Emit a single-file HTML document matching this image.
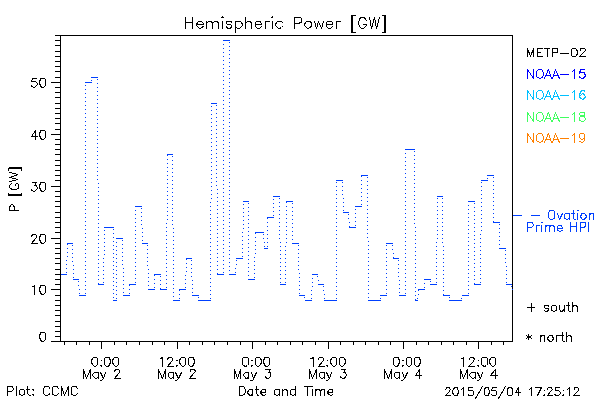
<!DOCTYPE html><html><head><title>Hemispheric Power</title><meta charset="utf-8"><style>html,body{margin:0;padding:0;background:#fff}svg{display:block}</style></head><body><svg width="600" height="400" viewBox="0 0 600 400" shape-rendering="crispEdges">
<rect width="600" height="400" fill="#fff"/>
<path d="M60 35.5H513 M60 341.5H513 M60.5 35V342 M512.5 35V342 M51 341.5H60 M55 336.5H60 M55 331.5H60 M55 326.5H60 M55 321.5H60 M55 315.5H60 M55 310.5H60 M55 305.5H60 M55 300.5H60 M55 295.5H60 M51 289.5H60 M55 284.5H60 M55 279.5H60 M55 274.5H60 M55 269.5H60 M55 263.5H60 M55 258.5H60 M55 253.5H60 M55 248.5H60 M55 243.5H60 M51 238.5H60 M55 232.5H60 M55 227.5H60 M55 222.5H60 M55 217.5H60 M55 212.5H60 M55 206.5H60 M55 201.5H60 M55 196.5H60 M55 191.5H60 M51 186.5H60 M55 180.5H60 M55 175.5H60 M55 170.5H60 M55 165.5H60 M55 160.5H60 M55 154.5H60 M55 149.5H60 M55 144.5H60 M55 139.5H60 M51 134.5H60 M55 129.5H60 M55 123.5H60 M55 118.5H60 M55 113.5H60 M55 108.5H60 M55 103.5H60 M55 97.5H60 M55 92.5H60 M55 87.5H60 M51 82.5H60 M55 77.5H60 M55 71.5H60 M55 66.5H60 M55 61.5H60 M55 56.5H60 M55 51.5H60 M55 45.5H60 M55 40.5H60 M55 35.5H60 M64.5 342V345 M76.5 342V345 M89.5 342V345 M101.5 342V349 M114.5 342V345 M126.5 342V345 M139.5 342V345 M152.5 342V345 M164.5 342V345 M177.5 342V349 M189.5 342V345 M202.5 342V345 M214.5 342V345 M227.5 342V345 M240.5 342V345 M252.5 342V349 M265.5 342V345 M277.5 342V345 M290.5 342V345 M302.5 342V345 M315.5 342V345 M328.5 342V349 M340.5 342V345 M353.5 342V345 M365.5 342V345 M378.5 342V345 M390.5 342V345 M403.5 342V349 M416.5 342V345 M428.5 342V345 M441.5 342V345 M453.5 342V345 M466.5 342V345 M478.5 342V349 M491.5 342V345 M503.5 342V345" stroke="#000" stroke-width="1" fill="none"/>
<path d="M61 274.5H67 M67 243.5H73 M73 279.5H79 M79 295.5H86 M85 82.5H92 M91 77.5H98 M98 284.5H104 M104 227.5H114 M113 300.5H117 M116 238.5H123 M123 295.5H130 M129 284.5H136 M135 206.5H142 M142 243.5H148 M148 289.5H155 M154 274.5H161 M160 289.5H167 M167 154.5H173 M173 300.5H180 M179 289.5H186 M186 258.5H192 M192 295.5H199 M198 300.5H211 M211 103.5H217 M217 274.5H224 M223 40.5H230 M229 274.5H236 M236 258.5H243 M243 201.5H249 M248 279.5H255 M255 232.5H264 M264 248.5H268 M267 217.5H274 M273 196.5H280 M280 284.5H286 M286 201.5H293 M292 243.5H299 M299 295.5H305 M305 300.5H312 M312 274.5H318 M318 284.5H324 M324 300.5H337 M336 180.5H343 M343 212.5H349 M349 227.5H356 M355 206.5H362 M361 175.5H368 M368 300.5H381 M380 295.5H387 M386 243.5H393 M393 258.5H399 M399 295.5H406 M405 149.5H415 M415 300.5H418 M418 289.5H425 M424 279.5H431 M430 284.5H437 M437 196.5H443 M443 295.5H450 M449 300.5H462 M462 295.5H469 M468 201.5H475 M474 284.5H481 M481 180.5H488 M487 175.5H494 M493 222.5H500 M499 248.5H506 M506 284.5H512" stroke="#0040ff" stroke-width="1" fill="none"/>
<path d="M66 272.5h1 M66 268.5h1 M66 264.5h1 M66 260.5h1 M67 256.5h1 M67 252.5h1 M67 248.5h1 M67 244.5h1 M72 245.5h1 M72 249.5h1 M72 253.5h1 M72 257.5h1 M72 261.5h1 M73 265.5h1 M73 269.5h1 M73 273.5h1 M73 277.5h1 M78 281.5h1 M78 285.5h1 M79 289.5h1 M79 293.5h1 M85 293.5h1 M85 289.5h1 M85 285.5h1 M85 281.5h1 M85 277.5h1 M85 273.5h1 M85 269.5h1 M85 265.5h1 M85 261.5h1 M85 257.5h1 M85 253.5h1 M85 249.5h1 M85 245.5h1 M85 241.5h1 M85 237.5h1 M85 233.5h1 M85 229.5h1 M85 225.5h1 M85 221.5h1 M85 217.5h1 M85 213.5h1 M85 209.5h1 M85 205.5h1 M85 201.5h1 M85 197.5h1 M85 193.5h1 M85 189.5h1 M85 185.5h1 M85 181.5h1 M85 177.5h1 M85 173.5h1 M85 169.5h1 M85 165.5h1 M85 161.5h1 M85 157.5h1 M85 153.5h1 M85 149.5h1 M85 145.5h1 M85 141.5h1 M85 137.5h1 M85 133.5h1 M85 129.5h1 M85 125.5h1 M85 121.5h1 M85 117.5h1 M85 113.5h1 M85 109.5h1 M85 105.5h1 M85 101.5h1 M85 97.5h1 M85 93.5h1 M85 89.5h1 M85 85.5h1 M91 80.5h1 M97 79.5h1 M97 83.5h1 M97 87.5h1 M97 91.5h1 M97 95.5h1 M97 99.5h1 M97 103.5h1 M97 107.5h1 M97 111.5h1 M97 115.5h1 M97 119.5h1 M97 123.5h1 M97 127.5h1 M97 131.5h1 M97 135.5h1 M97 139.5h1 M97 143.5h1 M97 147.5h1 M97 151.5h1 M97 155.5h1 M97 159.5h1 M97 163.5h1 M97 167.5h1 M97 171.5h1 M97 175.5h1 M97 179.5h1 M98 183.5h1 M98 187.5h1 M98 191.5h1 M98 195.5h1 M98 199.5h1 M98 203.5h1 M98 207.5h1 M98 211.5h1 M98 215.5h1 M98 219.5h1 M98 223.5h1 M98 227.5h1 M98 231.5h1 M98 235.5h1 M98 239.5h1 M98 243.5h1 M98 247.5h1 M98 251.5h1 M98 255.5h1 M98 259.5h1 M98 263.5h1 M98 267.5h1 M98 271.5h1 M98 275.5h1 M98 279.5h1 M98 283.5h1 M103 282.5h1 M103 278.5h1 M103 274.5h1 M103 270.5h1 M103 266.5h1 M103 262.5h1 M103 258.5h1 M104 254.5h1 M104 250.5h1 M104 246.5h1 M104 242.5h1 M104 238.5h1 M104 234.5h1 M104 230.5h1 M113 229.5h1 M113 233.5h1 M113 237.5h1 M113 241.5h1 M113 245.5h1 M113 249.5h1 M113 253.5h1 M113 257.5h1 M113 261.5h1 M113 265.5h1 M113 269.5h1 M113 273.5h1 M113 277.5h1 M113 281.5h1 M113 285.5h1 M113 289.5h1 M113 293.5h1 M113 297.5h1 M116 298.5h1 M116 294.5h1 M116 290.5h1 M116 286.5h1 M116 282.5h1 M116 278.5h1 M116 274.5h1 M116 270.5h1 M116 266.5h1 M116 262.5h1 M116 258.5h1 M116 254.5h1 M116 250.5h1 M116 246.5h1 M116 242.5h1 M122 240.5h1 M122 244.5h1 M122 248.5h1 M122 252.5h1 M122 256.5h1 M122 260.5h1 M122 264.5h1 M123 268.5h1 M123 272.5h1 M123 276.5h1 M123 280.5h1 M123 284.5h1 M123 288.5h1 M123 292.5h1 M129 293.5h1 M129 289.5h1 M129 285.5h1 M135 282.5h1 M135 278.5h1 M135 274.5h1 M135 270.5h1 M135 266.5h1 M135 262.5h1 M135 258.5h1 M135 254.5h1 M135 250.5h1 M135 246.5h1 M135 242.5h1 M135 238.5h1 M135 234.5h1 M135 230.5h1 M135 226.5h1 M135 222.5h1 M135 218.5h1 M135 214.5h1 M135 210.5h1 M141 208.5h1 M141 212.5h1 M141 216.5h1 M141 220.5h1 M141 224.5h1 M142 228.5h1 M142 232.5h1 M142 236.5h1 M142 240.5h1 M147 245.5h1 M147 249.5h1 M147 253.5h1 M147 257.5h1 M147 261.5h1 M147 265.5h1 M148 269.5h1 M148 273.5h1 M148 277.5h1 M148 281.5h1 M148 285.5h1 M154 287.5h1 M154 283.5h1 M154 279.5h1 M154 275.5h1 M160 276.5h1 M160 280.5h1 M160 284.5h1 M160 288.5h1 M166 287.5h1 M166 283.5h1 M166 279.5h1 M166 275.5h1 M166 271.5h1 M166 267.5h1 M166 263.5h1 M166 259.5h1 M166 255.5h1 M166 251.5h1 M166 247.5h1 M166 243.5h1 M166 239.5h1 M166 235.5h1 M166 231.5h1 M166 227.5h1 M166 223.5h1 M167 219.5h1 M167 215.5h1 M167 211.5h1 M167 207.5h1 M167 203.5h1 M167 199.5h1 M167 195.5h1 M167 191.5h1 M167 187.5h1 M167 183.5h1 M167 179.5h1 M167 175.5h1 M167 171.5h1 M167 167.5h1 M167 163.5h1 M167 159.5h1 M167 155.5h1 M172 156.5h1 M172 160.5h1 M172 164.5h1 M172 168.5h1 M172 172.5h1 M172 176.5h1 M172 180.5h1 M172 184.5h1 M172 188.5h1 M172 192.5h1 M172 196.5h1 M172 200.5h1 M172 204.5h1 M172 208.5h1 M172 212.5h1 M172 216.5h1 M172 220.5h1 M172 224.5h1 M173 228.5h1 M173 232.5h1 M173 236.5h1 M173 240.5h1 M173 244.5h1 M173 248.5h1 M173 252.5h1 M173 256.5h1 M173 260.5h1 M173 264.5h1 M173 268.5h1 M173 272.5h1 M173 276.5h1 M173 280.5h1 M173 284.5h1 M173 288.5h1 M173 292.5h1 M173 296.5h1 M179 298.5h1 M179 294.5h1 M179 290.5h1 M185 287.5h1 M185 283.5h1 M185 279.5h1 M185 275.5h1 M186 271.5h1 M186 267.5h1 M186 263.5h1 M186 259.5h1 M191 260.5h1 M191 264.5h1 M191 268.5h1 M191 272.5h1 M191 276.5h1 M192 280.5h1 M192 284.5h1 M192 288.5h1 M192 292.5h1 M198 297.5h1 M210 298.5h1 M210 294.5h1 M210 290.5h1 M210 286.5h1 M210 282.5h1 M210 278.5h1 M210 274.5h1 M210 270.5h1 M210 266.5h1 M210 262.5h1 M210 258.5h1 M210 254.5h1 M210 250.5h1 M210 246.5h1 M210 242.5h1 M210 238.5h1 M210 234.5h1 M210 230.5h1 M210 226.5h1 M210 222.5h1 M210 218.5h1 M210 214.5h1 M210 210.5h1 M210 206.5h1 M210 202.5h1 M211 198.5h1 M211 194.5h1 M211 190.5h1 M211 186.5h1 M211 182.5h1 M211 178.5h1 M211 174.5h1 M211 170.5h1 M211 166.5h1 M211 162.5h1 M211 158.5h1 M211 154.5h1 M211 150.5h1 M211 146.5h1 M211 142.5h1 M211 138.5h1 M211 134.5h1 M211 130.5h1 M211 126.5h1 M211 122.5h1 M211 118.5h1 M211 114.5h1 M211 110.5h1 M211 106.5h1 M216 105.5h1 M216 109.5h1 M216 113.5h1 M216 117.5h1 M216 121.5h1 M216 125.5h1 M216 129.5h1 M216 133.5h1 M216 137.5h1 M216 141.5h1 M216 145.5h1 M216 149.5h1 M216 153.5h1 M216 157.5h1 M216 161.5h1 M216 165.5h1 M216 169.5h1 M216 173.5h1 M216 177.5h1 M216 181.5h1 M216 185.5h1 M217 189.5h1 M217 193.5h1 M217 197.5h1 M217 201.5h1 M217 205.5h1 M217 209.5h1 M217 213.5h1 M217 217.5h1 M217 221.5h1 M217 225.5h1 M217 229.5h1 M217 233.5h1 M217 237.5h1 M217 241.5h1 M217 245.5h1 M217 249.5h1 M217 253.5h1 M217 257.5h1 M217 261.5h1 M217 265.5h1 M217 269.5h1 M217 273.5h1 M223 272.5h1 M223 268.5h1 M223 264.5h1 M223 260.5h1 M223 256.5h1 M223 252.5h1 M223 248.5h1 M223 244.5h1 M223 240.5h1 M223 236.5h1 M223 232.5h1 M223 228.5h1 M223 224.5h1 M223 220.5h1 M223 216.5h1 M223 212.5h1 M223 208.5h1 M223 204.5h1 M223 200.5h1 M223 196.5h1 M223 192.5h1 M223 188.5h1 M223 184.5h1 M223 180.5h1 M223 176.5h1 M223 172.5h1 M223 168.5h1 M223 164.5h1 M223 160.5h1 M223 156.5h1 M223 152.5h1 M223 148.5h1 M223 144.5h1 M223 140.5h1 M223 136.5h1 M223 132.5h1 M223 128.5h1 M223 124.5h1 M223 120.5h1 M223 116.5h1 M223 112.5h1 M223 108.5h1 M223 104.5h1 M223 100.5h1 M223 96.5h1 M223 92.5h1 M223 88.5h1 M223 84.5h1 M223 80.5h1 M223 76.5h1 M223 72.5h1 M223 68.5h1 M223 64.5h1 M223 60.5h1 M223 56.5h1 M223 52.5h1 M223 48.5h1 M223 44.5h1 M229 42.5h1 M229 46.5h1 M229 50.5h1 M229 54.5h1 M229 58.5h1 M229 62.5h1 M229 66.5h1 M229 70.5h1 M229 74.5h1 M229 78.5h1 M229 82.5h1 M229 86.5h1 M229 90.5h1 M229 94.5h1 M229 98.5h1 M229 102.5h1 M229 106.5h1 M229 110.5h1 M229 114.5h1 M229 118.5h1 M229 122.5h1 M229 126.5h1 M229 130.5h1 M229 134.5h1 M229 138.5h1 M229 142.5h1 M229 146.5h1 M229 150.5h1 M229 154.5h1 M229 158.5h1 M229 162.5h1 M229 166.5h1 M229 170.5h1 M229 174.5h1 M229 178.5h1 M229 182.5h1 M229 186.5h1 M229 190.5h1 M229 194.5h1 M229 198.5h1 M229 202.5h1 M229 206.5h1 M229 210.5h1 M229 214.5h1 M229 218.5h1 M229 222.5h1 M229 226.5h1 M229 230.5h1 M229 234.5h1 M229 238.5h1 M229 242.5h1 M229 246.5h1 M229 250.5h1 M229 254.5h1 M229 258.5h1 M229 262.5h1 M229 266.5h1 M229 270.5h1 M235 272.5h1 M235 268.5h1 M236 264.5h1 M236 260.5h1 M242 256.5h1 M242 252.5h1 M242 248.5h1 M242 244.5h1 M242 240.5h1 M242 236.5h1 M242 232.5h1 M243 228.5h1 M243 224.5h1 M243 220.5h1 M243 216.5h1 M243 212.5h1 M243 208.5h1 M243 204.5h1 M248 203.5h1 M248 207.5h1 M248 211.5h1 M248 215.5h1 M248 219.5h1 M248 223.5h1 M248 227.5h1 M248 231.5h1 M248 235.5h1 M248 239.5h1 M248 243.5h1 M248 247.5h1 M248 251.5h1 M248 255.5h1 M248 259.5h1 M248 263.5h1 M248 267.5h1 M248 271.5h1 M248 275.5h1 M254 277.5h1 M254 273.5h1 M254 269.5h1 M254 265.5h1 M254 261.5h1 M254 257.5h1 M255 253.5h1 M255 249.5h1 M255 245.5h1 M255 241.5h1 M255 237.5h1 M255 233.5h1 M263 234.5h1 M263 238.5h1 M264 242.5h1 M264 246.5h1 M267 246.5h1 M267 242.5h1 M267 238.5h1 M267 234.5h1 M267 230.5h1 M267 226.5h1 M267 222.5h1 M267 218.5h1 M273 215.5h1 M273 211.5h1 M273 207.5h1 M273 203.5h1 M273 199.5h1 M279 198.5h1 M279 202.5h1 M279 206.5h1 M279 210.5h1 M279 214.5h1 M279 218.5h1 M279 222.5h1 M279 226.5h1 M279 230.5h1 M279 234.5h1 M279 238.5h1 M280 242.5h1 M280 246.5h1 M280 250.5h1 M280 254.5h1 M280 258.5h1 M280 262.5h1 M280 266.5h1 M280 270.5h1 M280 274.5h1 M280 278.5h1 M280 282.5h1 M285 282.5h1 M285 278.5h1 M285 274.5h1 M285 270.5h1 M285 266.5h1 M285 262.5h1 M285 258.5h1 M285 254.5h1 M285 250.5h1 M285 246.5h1 M286 242.5h1 M286 238.5h1 M286 234.5h1 M286 230.5h1 M286 226.5h1 M286 222.5h1 M286 218.5h1 M286 214.5h1 M286 210.5h1 M286 206.5h1 M286 202.5h1 M292 203.5h1 M292 207.5h1 M292 211.5h1 M292 215.5h1 M292 219.5h1 M292 223.5h1 M292 227.5h1 M292 231.5h1 M292 235.5h1 M292 239.5h1 M298 245.5h1 M298 249.5h1 M298 253.5h1 M298 257.5h1 M298 261.5h1 M298 265.5h1 M298 269.5h1 M299 273.5h1 M299 277.5h1 M299 281.5h1 M299 285.5h1 M299 289.5h1 M299 293.5h1 M304 297.5h1 M311 298.5h1 M311 294.5h1 M311 290.5h1 M312 286.5h1 M312 282.5h1 M312 278.5h1 M317 276.5h1 M318 280.5h1 M323 286.5h1 M323 290.5h1 M324 294.5h1 M324 298.5h1 M336 298.5h1 M336 294.5h1 M336 290.5h1 M336 286.5h1 M336 282.5h1 M336 278.5h1 M336 274.5h1 M336 270.5h1 M336 266.5h1 M336 262.5h1 M336 258.5h1 M336 254.5h1 M336 250.5h1 M336 246.5h1 M336 242.5h1 M336 238.5h1 M336 234.5h1 M336 230.5h1 M336 226.5h1 M336 222.5h1 M336 218.5h1 M336 214.5h1 M336 210.5h1 M336 206.5h1 M336 202.5h1 M336 198.5h1 M336 194.5h1 M336 190.5h1 M336 186.5h1 M336 182.5h1 M342 182.5h1 M342 186.5h1 M342 190.5h1 M342 194.5h1 M343 198.5h1 M343 202.5h1 M343 206.5h1 M343 210.5h1 M348 214.5h1 M348 218.5h1 M349 222.5h1 M349 226.5h1 M355 225.5h1 M355 221.5h1 M355 217.5h1 M355 213.5h1 M355 209.5h1 M361 204.5h1 M361 200.5h1 M361 196.5h1 M361 192.5h1 M361 188.5h1 M361 184.5h1 M361 180.5h1 M361 176.5h1 M367 177.5h1 M367 181.5h1 M367 185.5h1 M367 189.5h1 M367 193.5h1 M367 197.5h1 M367 201.5h1 M367 205.5h1 M367 209.5h1 M367 213.5h1 M367 217.5h1 M367 221.5h1 M367 225.5h1 M367 229.5h1 M367 233.5h1 M367 237.5h1 M368 241.5h1 M368 245.5h1 M368 249.5h1 M368 253.5h1 M368 257.5h1 M368 261.5h1 M368 265.5h1 M368 269.5h1 M368 273.5h1 M368 277.5h1 M368 281.5h1 M368 285.5h1 M368 289.5h1 M368 293.5h1 M368 297.5h1 M380 298.5h1 M386 293.5h1 M386 289.5h1 M386 285.5h1 M386 281.5h1 M386 277.5h1 M386 273.5h1 M386 269.5h1 M386 265.5h1 M386 261.5h1 M386 257.5h1 M386 253.5h1 M386 249.5h1 M386 245.5h1 M392 245.5h1 M392 249.5h1 M393 253.5h1 M393 257.5h1 M398 260.5h1 M398 264.5h1 M398 268.5h1 M398 272.5h1 M398 276.5h1 M399 280.5h1 M399 284.5h1 M399 288.5h1 M399 292.5h1 M405 293.5h1 M405 289.5h1 M405 285.5h1 M405 281.5h1 M405 277.5h1 M405 273.5h1 M405 269.5h1 M405 265.5h1 M405 261.5h1 M405 257.5h1 M405 253.5h1 M405 249.5h1 M405 245.5h1 M405 241.5h1 M405 237.5h1 M405 233.5h1 M405 229.5h1 M405 225.5h1 M405 221.5h1 M405 217.5h1 M405 213.5h1 M405 209.5h1 M405 205.5h1 M405 201.5h1 M405 197.5h1 M405 193.5h1 M405 189.5h1 M405 185.5h1 M405 181.5h1 M405 177.5h1 M405 173.5h1 M405 169.5h1 M405 165.5h1 M405 161.5h1 M405 157.5h1 M405 153.5h1 M414 151.5h1 M414 155.5h1 M414 159.5h1 M414 163.5h1 M414 167.5h1 M414 171.5h1 M414 175.5h1 M414 179.5h1 M414 183.5h1 M414 187.5h1 M414 191.5h1 M414 195.5h1 M414 199.5h1 M414 203.5h1 M414 207.5h1 M414 211.5h1 M414 215.5h1 M414 219.5h1 M414 223.5h1 M415 227.5h1 M415 231.5h1 M415 235.5h1 M415 239.5h1 M415 243.5h1 M415 247.5h1 M415 251.5h1 M415 255.5h1 M415 259.5h1 M415 263.5h1 M415 267.5h1 M415 271.5h1 M415 275.5h1 M415 279.5h1 M415 283.5h1 M415 287.5h1 M415 291.5h1 M415 295.5h1 M415 299.5h1 M417 298.5h1 M418 294.5h1 M418 290.5h1 M424 287.5h1 M424 283.5h1 M430 281.5h1 M436 282.5h1 M436 278.5h1 M436 274.5h1 M436 270.5h1 M436 266.5h1 M436 262.5h1 M436 258.5h1 M436 254.5h1 M436 250.5h1 M436 246.5h1 M436 242.5h1 M437 238.5h1 M437 234.5h1 M437 230.5h1 M437 226.5h1 M437 222.5h1 M437 218.5h1 M437 214.5h1 M437 210.5h1 M437 206.5h1 M437 202.5h1 M437 198.5h1 M442 198.5h1 M442 202.5h1 M442 206.5h1 M442 210.5h1 M442 214.5h1 M442 218.5h1 M442 222.5h1 M442 226.5h1 M442 230.5h1 M442 234.5h1 M442 238.5h1 M442 242.5h1 M443 246.5h1 M443 250.5h1 M443 254.5h1 M443 258.5h1 M443 262.5h1 M443 266.5h1 M443 270.5h1 M443 274.5h1 M443 278.5h1 M443 282.5h1 M443 286.5h1 M443 290.5h1 M443 294.5h1 M449 297.5h1 M461 298.5h1 M468 293.5h1 M468 289.5h1 M468 285.5h1 M468 281.5h1 M468 277.5h1 M468 273.5h1 M468 269.5h1 M468 265.5h1 M468 261.5h1 M468 257.5h1 M468 253.5h1 M468 249.5h1 M468 245.5h1 M468 241.5h1 M468 237.5h1 M468 233.5h1 M468 229.5h1 M468 225.5h1 M468 221.5h1 M468 217.5h1 M468 213.5h1 M468 209.5h1 M468 205.5h1 M474 203.5h1 M474 207.5h1 M474 211.5h1 M474 215.5h1 M474 219.5h1 M474 223.5h1 M474 227.5h1 M474 231.5h1 M474 235.5h1 M474 239.5h1 M474 243.5h1 M474 247.5h1 M474 251.5h1 M474 255.5h1 M474 259.5h1 M474 263.5h1 M474 267.5h1 M474 271.5h1 M474 275.5h1 M474 279.5h1 M474 283.5h1 M480 282.5h1 M480 278.5h1 M480 274.5h1 M480 270.5h1 M480 266.5h1 M480 262.5h1 M480 258.5h1 M480 254.5h1 M480 250.5h1 M480 246.5h1 M480 242.5h1 M480 238.5h1 M480 234.5h1 M481 230.5h1 M481 226.5h1 M481 222.5h1 M481 218.5h1 M481 214.5h1 M481 210.5h1 M481 206.5h1 M481 202.5h1 M481 198.5h1 M481 194.5h1 M481 190.5h1 M481 186.5h1 M481 182.5h1 M487 178.5h1 M493 177.5h1 M493 181.5h1 M493 185.5h1 M493 189.5h1 M493 193.5h1 M493 197.5h1 M493 201.5h1 M493 205.5h1 M493 209.5h1 M493 213.5h1 M493 217.5h1 M493 221.5h1 M499 224.5h1 M499 228.5h1 M499 232.5h1 M499 236.5h1 M499 240.5h1 M499 244.5h1 M505 250.5h1 M505 254.5h1 M505 258.5h1 M505 262.5h1 M506 266.5h1 M506 270.5h1 M506 274.5h1 M506 278.5h1 M506 282.5h1 M511 286.5h1 M512 289.5h1" stroke="#0040ff" stroke-width="1" fill="none"/>
<path d="M513 215.5H522" stroke="#0040ff" stroke-width="1" fill="none"/>
<path d="M185.5 17.5 L185.5 28.5 M192.5 17.5 L192.5 28.5 M185.5 22.5 L192.5 22.5 M196.5 24.5 L203.5 24.5 L203.5 23.5 L202.5 22.5 L201.5 21.5 L200.5 21.5 L199.5 21.5 L198.5 21.5 L197.5 22.5 L196.5 24.5 L196.5 25.5 L197.5 26.5 L198.5 27.5 L199.5 28.5 L200.5 28.5 L201.5 27.5 L203.5 26.5 M206.5 21.5 L206.5 28.5 M206.5 23.5 L208.5 21.5 L209.5 21.5 L210.5 21.5 L211.5 21.5 L212.5 23.5 L212.5 28.5 M212.5 23.5 L214.5 21.5 L215.5 21.5 L216.5 21.5 L217.5 21.5 L218.5 23.5 L218.5 28.5 M221.5 17.5 L222.5 17.5 L223.5 17.5 L222.5 16.5 L221.5 17.5 M222.5 21.5 L222.5 28.5 M231.5 22.5 L231.5 21.5 L229.5 21.5 L228.5 21.5 L226.5 21.5 L226.5 22.5 L226.5 23.5 L227.5 24.5 L230.5 24.5 L231.5 25.5 L231.5 26.5 L231.5 27.5 L229.5 28.5 L228.5 28.5 L226.5 27.5 L226.5 26.5 M235.5 21.5 L235.5 32.5 M235.5 22.5 L236.5 21.5 L237.5 21.5 L239.5 21.5 L240.5 21.5 L241.5 22.5 L242.5 24.5 L242.5 25.5 L241.5 26.5 L240.5 27.5 L239.5 28.5 L237.5 28.5 L236.5 27.5 L235.5 26.5 M245.5 17.5 L245.5 28.5 M245.5 23.5 L247.5 21.5 L248.5 21.5 L249.5 21.5 L250.5 21.5 L251.5 23.5 L251.5 28.5 M255.5 24.5 L261.5 24.5 L261.5 23.5 L260.5 22.5 L260.5 21.5 L259.5 21.5 L257.5 21.5 L256.5 21.5 L255.5 22.5 L255.5 24.5 L255.5 25.5 L255.5 26.5 L256.5 27.5 L257.5 28.5 L259.5 28.5 L260.5 27.5 L261.5 26.5 M265.5 21.5 L265.5 28.5 M265.5 24.5 L265.5 22.5 L266.5 21.5 L267.5 21.5 L269.5 21.5 M271.5 17.5 L272.5 17.5 L272.5 16.5 L271.5 17.5 M272.5 21.5 L272.5 28.5 M282.5 22.5 L281.5 21.5 L279.5 21.5 L278.5 21.5 L277.5 21.5 L276.5 22.5 L275.5 24.5 L275.5 25.5 L276.5 26.5 L277.5 27.5 L278.5 28.5 L279.5 28.5 L281.5 27.5 L282.5 26.5 M294.5 17.5 L294.5 28.5 M294.5 17.5 L298.5 17.5 L300.5 17.5 L301.5 18.5 L301.5 19.5 L301.5 21.5 L301.5 22.5 L300.5 22.5 L298.5 23.5 L294.5 23.5 M307.5 21.5 L306.5 21.5 L305.5 22.5 L304.5 24.5 L304.5 25.5 L305.5 26.5 L306.5 27.5 L307.5 28.5 L308.5 28.5 L309.5 27.5 L311.5 26.5 L311.5 25.5 L311.5 24.5 L311.5 22.5 L309.5 21.5 L308.5 21.5 L307.5 21.5 M314.5 21.5 L316.5 28.5 M318.5 21.5 L316.5 28.5 M318.5 21.5 L321.5 28.5 M323.5 21.5 L321.5 28.5 M326.5 24.5 L332.5 24.5 L332.5 23.5 L332.5 22.5 L331.5 21.5 L330.5 21.5 L328.5 21.5 L327.5 21.5 L326.5 22.5 L326.5 24.5 L326.5 25.5 L326.5 26.5 L327.5 27.5 L328.5 28.5 L330.5 28.5 L331.5 27.5 L332.5 26.5 M336.5 21.5 L336.5 28.5 M336.5 24.5 L336.5 22.5 L337.5 21.5 L338.5 21.5 L340.5 21.5 M351.5 15.5 L351.5 32.5 M352.5 15.5 L352.5 32.5 M351.5 15.5 L355.5 15.5 M351.5 32.5 L355.5 32.5 M366.5 20.5 L365.5 19.5 L364.5 17.5 L363.5 17.5 L361.5 17.5 L360.5 17.5 L359.5 19.5 L359.5 20.5 L358.5 21.5 L358.5 24.5 L359.5 25.5 L359.5 26.5 L360.5 27.5 L361.5 28.5 L363.5 28.5 L364.5 27.5 L365.5 26.5 L366.5 25.5 L366.5 24.5 M363.5 24.5 L366.5 24.5 M369.5 17.5 L371.5 28.5 M374.5 17.5 L371.5 28.5 M374.5 17.5 L376.5 28.5 M379.5 17.5 L376.5 28.5 M385.5 15.5 L385.5 32.5 M384.5 15.5 L384.5 32.5 M382.5 15.5 L385.5 15.5 M382.5 32.5 L385.5 32.5" stroke="#000" stroke-width="1" fill="none" stroke-linecap="square"/>
<path d="M42.5 332.5 L40.5 332.5 L40.5 333.5 L39.5 335.5 L39.5 337.5 L40.5 339.5 L40.5 340.5 L42.5 341.5 L43.5 341.5 L44.5 340.5 L45.5 339.5 L45.5 337.5 L45.5 335.5 L45.5 333.5 L44.5 332.5 L43.5 332.5 L42.5 332.5" stroke="#000" stroke-width="1" fill="none" stroke-linecap="square"/>
<path d="M32.5 286.5 L33.5 286.5 L34.5 285.5 L34.5 294.5 M42.5 285.5 L40.5 285.5 L40.5 286.5 L39.5 288.5 L39.5 290.5 L40.5 292.5 L40.5 293.5 L42.5 294.5 L43.5 294.5 L44.5 293.5 L45.5 292.5 L45.5 290.5 L45.5 288.5 L45.5 286.5 L44.5 285.5 L43.5 285.5 L42.5 285.5" stroke="#000" stroke-width="1" fill="none" stroke-linecap="square"/>
<path d="M31.5 236.5 L31.5 235.5 L32.5 235.5 L32.5 234.5 L33.5 234.5 L35.5 234.5 L36.5 235.5 L36.5 236.5 L36.5 237.5 L35.5 238.5 L31.5 243.5 L37.5 243.5 M42.5 234.5 L40.5 234.5 L40.5 235.5 L39.5 237.5 L39.5 239.5 L40.5 241.5 L40.5 242.5 L42.5 243.5 L43.5 243.5 L44.5 242.5 L45.5 241.5 L45.5 239.5 L45.5 237.5 L45.5 235.5 L44.5 234.5 L43.5 234.5 L42.5 234.5" stroke="#000" stroke-width="1" fill="none" stroke-linecap="square"/>
<path d="M32.5 182.5 L36.5 182.5 L34.5 185.5 L35.5 185.5 L36.5 185.5 L36.5 186.5 L37.5 187.5 L37.5 188.5 L36.5 189.5 L35.5 190.5 L34.5 191.5 L33.5 191.5 L32.5 190.5 L31.5 190.5 L31.5 189.5 M42.5 182.5 L40.5 182.5 L40.5 183.5 L39.5 185.5 L39.5 187.5 L40.5 189.5 L40.5 190.5 L42.5 191.5 L43.5 191.5 L44.5 190.5 L45.5 189.5 L45.5 187.5 L45.5 185.5 L45.5 183.5 L44.5 182.5 L43.5 182.5 L42.5 182.5" stroke="#000" stroke-width="1" fill="none" stroke-linecap="square"/>
<path d="M35.5 130.5 L31.5 136.5 L37.5 136.5 M35.5 130.5 L35.5 139.5 M42.5 130.5 L40.5 130.5 L40.5 131.5 L39.5 133.5 L39.5 135.5 L40.5 137.5 L40.5 138.5 L42.5 139.5 L43.5 139.5 L44.5 138.5 L45.5 137.5 L45.5 135.5 L45.5 133.5 L45.5 131.5 L44.5 130.5 L43.5 130.5 L42.5 130.5" stroke="#000" stroke-width="1" fill="none" stroke-linecap="square"/>
<path d="M36.5 78.5 L32.5 78.5 L31.5 81.5 L32.5 81.5 L33.5 81.5 L34.5 81.5 L35.5 81.5 L36.5 82.5 L37.5 83.5 L37.5 84.5 L36.5 85.5 L35.5 86.5 L34.5 87.5 L33.5 87.5 L32.5 86.5 L31.5 86.5 L31.5 85.5 M42.5 78.5 L40.5 78.5 L40.5 79.5 L39.5 81.5 L39.5 83.5 L40.5 85.5 L40.5 86.5 L42.5 87.5 L43.5 87.5 L44.5 86.5 L45.5 85.5 L45.5 83.5 L45.5 81.5 L45.5 79.5 L44.5 78.5 L43.5 78.5 L42.5 78.5" stroke="#000" stroke-width="1" fill="none" stroke-linecap="square"/>
<path d="M94.5 357.5 L93.5 357.5 L92.5 358.5 L91.5 360.5 L91.5 362.5 L92.5 364.5 L93.5 365.5 L94.5 366.5 L95.5 366.5 L96.5 365.5 L97.5 364.5 L97.5 362.5 L97.5 360.5 L97.5 358.5 L96.5 357.5 L95.5 357.5 L94.5 357.5 M101.5 360.5 L100.5 360.5 L101.5 360.5 M101.5 365.5 L100.5 365.5 L101.5 366.5 L101.5 365.5 M106.5 357.5 L105.5 357.5 L104.5 358.5 L104.5 360.5 L104.5 362.5 L104.5 364.5 L105.5 365.5 L106.5 366.5 L107.5 366.5 L109.5 365.5 L109.5 364.5 L110.5 362.5 L110.5 360.5 L109.5 358.5 L109.5 357.5 L107.5 357.5 L106.5 357.5 M115.5 357.5 L114.5 357.5 L113.5 358.5 L112.5 360.5 L112.5 362.5 L113.5 364.5 L114.5 365.5 L115.5 366.5 L116.5 366.5 L117.5 365.5 L118.5 364.5 L118.5 362.5 L118.5 360.5 L118.5 358.5 L117.5 357.5 L116.5 357.5 L115.5 357.5" stroke="#000" stroke-width="1" fill="none" stroke-linecap="square"/>
<path d="M83.5 369.5 L83.5 378.5 M83.5 369.5 L86.5 378.5 M90.5 369.5 L86.5 378.5 M90.5 369.5 L90.5 378.5 M98.5 372.5 L98.5 378.5 M98.5 373.5 L97.5 372.5 L96.5 372.5 L95.5 372.5 L94.5 372.5 L93.5 373.5 L92.5 374.5 L92.5 375.5 L93.5 376.5 L94.5 377.5 L95.5 378.5 L96.5 378.5 L97.5 377.5 L98.5 376.5 M100.5 372.5 L103.5 378.5 M105.5 372.5 L103.5 378.5 L102.5 379.5 L101.5 380.5 L100.5 380.5" stroke="#000" stroke-width="1" fill="none" stroke-linecap="square"/>
<path d="M114.5 371.5 L114.5 370.5 L115.5 370.5 L115.5 369.5 L116.5 369.5 L118.5 369.5 L119.5 370.5 L119.5 371.5 L119.5 372.5 L118.5 373.5 L114.5 378.5 L120.5 378.5" stroke="#000" stroke-width="1" fill="none" stroke-linecap="square"/>
<path d="M160.5 358.5 L162.5 357.5 L162.5 366.5 M167.5 359.5 L167.5 358.5 L168.5 358.5 L168.5 357.5 L169.5 357.5 L171.5 357.5 L172.5 358.5 L172.5 359.5 L172.5 360.5 L171.5 361.5 L167.5 366.5 L173.5 366.5 M176.5 360.5 L177.5 360.5 L176.5 360.5 M176.5 365.5 L176.5 366.5 L177.5 365.5 L176.5 365.5 M182.5 357.5 L181.5 357.5 L180.5 358.5 L179.5 360.5 L179.5 362.5 L180.5 364.5 L181.5 365.5 L182.5 366.5 L183.5 366.5 L184.5 365.5 L185.5 364.5 L185.5 362.5 L185.5 360.5 L185.5 358.5 L184.5 357.5 L183.5 357.5 L182.5 357.5 M190.5 357.5 L189.5 357.5 L188.5 358.5 L188.5 360.5 L188.5 362.5 L188.5 364.5 L189.5 365.5 L190.5 366.5 L191.5 366.5 L193.5 365.5 L193.5 364.5 L194.5 362.5 L194.5 360.5 L193.5 358.5 L193.5 357.5 L191.5 357.5 L190.5 357.5" stroke="#000" stroke-width="1" fill="none" stroke-linecap="square"/>
<path d="M158.5 369.5 L158.5 378.5 M158.5 369.5 L162.5 378.5 M165.5 369.5 L162.5 378.5 M165.5 369.5 L165.5 378.5 M173.5 372.5 L173.5 378.5 M173.5 373.5 L172.5 372.5 L171.5 372.5 L170.5 372.5 L169.5 372.5 L168.5 373.5 L168.5 374.5 L168.5 375.5 L168.5 376.5 L169.5 377.5 L170.5 378.5 L171.5 378.5 L172.5 377.5 L173.5 376.5 M175.5 372.5 L178.5 378.5 M181.5 372.5 L178.5 378.5 L177.5 379.5 L176.5 380.5 L175.5 380.5" stroke="#000" stroke-width="1" fill="none" stroke-linecap="square"/>
<path d="M190.5 371.5 L190.5 370.5 L190.5 369.5 L191.5 369.5 L193.5 369.5 L194.5 369.5 L194.5 370.5 L195.5 370.5 L195.5 371.5 L194.5 372.5 L193.5 373.5 L189.5 378.5 L195.5 378.5" stroke="#000" stroke-width="1" fill="none" stroke-linecap="square"/>
<path d="M245.5 357.5 L243.5 357.5 L242.5 358.5 L242.5 360.5 L242.5 362.5 L242.5 364.5 L243.5 365.5 L245.5 366.5 L247.5 365.5 L248.5 364.5 L248.5 362.5 L248.5 360.5 L248.5 358.5 L247.5 357.5 L245.5 357.5 M251.5 360.5 L252.5 360.5 L251.5 360.5 M251.5 365.5 L251.5 366.5 L252.5 365.5 L251.5 365.5 M257.5 357.5 L256.5 357.5 L255.5 358.5 L255.5 360.5 L255.5 362.5 L255.5 364.5 L256.5 365.5 L257.5 366.5 L258.5 366.5 L259.5 365.5 L260.5 364.5 L261.5 362.5 L261.5 360.5 L260.5 358.5 L259.5 357.5 L258.5 357.5 L257.5 357.5 M266.5 357.5 L264.5 357.5 L264.5 358.5 L263.5 360.5 L263.5 362.5 L264.5 364.5 L264.5 365.5 L266.5 366.5 L267.5 366.5 L268.5 365.5 L269.5 364.5 L269.5 362.5 L269.5 360.5 L269.5 358.5 L268.5 357.5 L267.5 357.5 L266.5 357.5" stroke="#000" stroke-width="1" fill="none" stroke-linecap="square"/>
<path d="M234.5 369.5 L234.5 378.5 M234.5 369.5 L237.5 378.5 M240.5 369.5 L237.5 378.5 M240.5 369.5 L240.5 378.5 M248.5 372.5 L248.5 378.5 M248.5 373.5 L247.5 372.5 L245.5 372.5 L244.5 373.5 L243.5 374.5 L243.5 375.5 L244.5 376.5 L245.5 377.5 L245.5 378.5 L247.5 378.5 L247.5 377.5 L248.5 376.5 M251.5 372.5 L253.5 378.5 M256.5 372.5 L253.5 378.5 L253.5 379.5 L252.5 380.5 L251.5 380.5 L250.5 380.5" stroke="#000" stroke-width="1" fill="none" stroke-linecap="square"/>
<path d="M265.5 369.5 L270.5 369.5 L268.5 372.5 L269.5 372.5 L270.5 372.5 L270.5 373.5 L270.5 374.5 L270.5 375.5 L270.5 376.5 L269.5 377.5 L268.5 378.5 L267.5 378.5 L265.5 377.5 L265.5 376.5" stroke="#000" stroke-width="1" fill="none" stroke-linecap="square"/>
<path d="M310.5 358.5 L311.5 358.5 L313.5 357.5 L313.5 366.5 M318.5 359.5 L318.5 358.5 L319.5 357.5 L320.5 357.5 L321.5 357.5 L322.5 357.5 L323.5 358.5 L323.5 359.5 L323.5 360.5 L322.5 361.5 L318.5 366.5 L324.5 366.5 M327.5 360.5 L326.5 360.5 L327.5 360.5 M327.5 365.5 L326.5 365.5 L327.5 366.5 L327.5 365.5 M333.5 357.5 L332.5 357.5 L331.5 358.5 L330.5 360.5 L330.5 362.5 L331.5 364.5 L332.5 365.5 L333.5 366.5 L334.5 366.5 L335.5 365.5 L336.5 364.5 L336.5 362.5 L336.5 360.5 L336.5 358.5 L335.5 357.5 L334.5 357.5 L333.5 357.5 M341.5 357.5 L340.5 357.5 L339.5 358.5 L339.5 360.5 L339.5 362.5 L339.5 364.5 L340.5 365.5 L341.5 366.5 L342.5 366.5 L343.5 365.5 L344.5 364.5 L345.5 362.5 L345.5 360.5 L344.5 358.5 L343.5 357.5 L342.5 357.5 L341.5 357.5" stroke="#000" stroke-width="1" fill="none" stroke-linecap="square"/>
<path d="M309.5 369.5 L309.5 378.5 M309.5 369.5 L312.5 378.5 M316.5 369.5 L312.5 378.5 M316.5 369.5 L316.5 378.5 M324.5 372.5 L324.5 378.5 M324.5 373.5 L323.5 372.5 L322.5 372.5 L321.5 372.5 L320.5 372.5 L319.5 373.5 L319.5 374.5 L319.5 375.5 L319.5 376.5 L320.5 377.5 L321.5 378.5 L322.5 378.5 L323.5 377.5 L324.5 376.5 M326.5 372.5 L329.5 378.5 M331.5 372.5 L329.5 378.5 L328.5 379.5 L327.5 380.5 L326.5 380.5" stroke="#000" stroke-width="1" fill="none" stroke-linecap="square"/>
<path d="M341.5 369.5 L345.5 369.5 L343.5 372.5 L344.5 372.5 L345.5 372.5 L345.5 373.5 L346.5 374.5 L346.5 375.5 L345.5 376.5 L345.5 377.5 L343.5 378.5 L342.5 378.5 L341.5 377.5 L340.5 377.5 L340.5 376.5" stroke="#000" stroke-width="1" fill="none" stroke-linecap="square"/>
<path d="M395.5 357.5 L394.5 357.5 L393.5 358.5 L393.5 360.5 L393.5 362.5 L393.5 364.5 L394.5 365.5 L395.5 366.5 L396.5 366.5 L398.5 365.5 L398.5 364.5 L399.5 362.5 L399.5 360.5 L398.5 358.5 L398.5 357.5 L396.5 357.5 L395.5 357.5 M402.5 360.5 L403.5 360.5 L402.5 360.5 M402.5 365.5 L402.5 366.5 L403.5 365.5 L402.5 365.5 M408.5 357.5 L407.5 357.5 L406.5 358.5 L406.5 360.5 L406.5 362.5 L406.5 364.5 L407.5 365.5 L408.5 366.5 L409.5 366.5 L410.5 365.5 L411.5 364.5 L411.5 362.5 L411.5 360.5 L411.5 358.5 L410.5 357.5 L409.5 357.5 L408.5 357.5 M416.5 357.5 L415.5 357.5 L414.5 358.5 L414.5 360.5 L414.5 362.5 L414.5 364.5 L415.5 365.5 L416.5 366.5 L417.5 366.5 L419.5 365.5 L419.5 364.5 L420.5 362.5 L420.5 360.5 L419.5 358.5 L419.5 357.5 L417.5 357.5 L416.5 357.5" stroke="#000" stroke-width="1" fill="none" stroke-linecap="square"/>
<path d="M384.5 369.5 L384.5 378.5 M384.5 369.5 L388.5 378.5 M391.5 369.5 L388.5 378.5 M391.5 369.5 L391.5 378.5 M399.5 372.5 L399.5 378.5 M399.5 373.5 L398.5 372.5 L397.5 372.5 L396.5 372.5 L395.5 372.5 L394.5 373.5 L394.5 374.5 L394.5 375.5 L394.5 376.5 L395.5 377.5 L396.5 378.5 L397.5 378.5 L398.5 377.5 L399.5 376.5 M402.5 372.5 L404.5 378.5 M407.5 372.5 L404.5 378.5 L403.5 379.5 L402.5 380.5 L401.5 380.5" stroke="#000" stroke-width="1" fill="none" stroke-linecap="square"/>
<path d="M419.5 369.5 L415.5 375.5 L421.5 375.5 M419.5 369.5 L419.5 378.5" stroke="#000" stroke-width="1" fill="none" stroke-linecap="square"/>
<path d="M461.5 358.5 L462.5 358.5 L463.5 357.5 L463.5 366.5 M469.5 359.5 L469.5 358.5 L470.5 357.5 L471.5 357.5 L472.5 357.5 L473.5 357.5 L473.5 358.5 L474.5 358.5 L474.5 359.5 L473.5 360.5 L473.5 361.5 L468.5 366.5 L474.5 366.5 M478.5 360.5 L477.5 360.5 L478.5 360.5 M478.5 365.5 L477.5 365.5 L478.5 366.5 L478.5 365.5 M484.5 357.5 L482.5 357.5 L481.5 358.5 L481.5 360.5 L481.5 362.5 L481.5 364.5 L482.5 365.5 L484.5 366.5 L486.5 365.5 L487.5 364.5 L487.5 362.5 L487.5 360.5 L487.5 358.5 L486.5 357.5 L484.5 357.5 M492.5 357.5 L491.5 357.5 L490.5 358.5 L489.5 360.5 L489.5 362.5 L490.5 364.5 L491.5 365.5 L492.5 366.5 L493.5 366.5 L494.5 365.5 L495.5 364.5 L495.5 362.5 L495.5 360.5 L495.5 358.5 L494.5 357.5 L493.5 357.5 L492.5 357.5" stroke="#000" stroke-width="1" fill="none" stroke-linecap="square"/>
<path d="M460.5 369.5 L460.5 378.5 M460.5 369.5 L463.5 378.5 M467.5 369.5 L463.5 378.5 M467.5 369.5 L467.5 378.5 M475.5 372.5 L475.5 378.5 M475.5 373.5 L474.5 372.5 L473.5 372.5 L472.5 372.5 L471.5 372.5 L470.5 373.5 L469.5 374.5 L469.5 375.5 L470.5 376.5 L471.5 377.5 L472.5 378.5 L473.5 378.5 L474.5 377.5 L475.5 376.5 M477.5 372.5 L480.5 378.5 M482.5 372.5 L480.5 378.5 L479.5 379.5 L478.5 380.5 L477.5 380.5" stroke="#000" stroke-width="1" fill="none" stroke-linecap="square"/>
<path d="M495.5 369.5 L490.5 375.5 L497.5 375.5 M495.5 369.5 L495.5 378.5" stroke="#000" stroke-width="1" fill="none" stroke-linecap="square"/>
<path d="M7.5 386.5 L7.5 395.5 M7.5 386.5 L11.5 386.5 L12.5 386.5 L12.5 387.5 L13.5 388.5 L13.5 389.5 L12.5 390.5 L11.5 391.5 L7.5 391.5 M16.5 386.5 L16.5 395.5 M21.5 389.5 L20.5 389.5 L19.5 390.5 L19.5 392.5 L19.5 394.5 L20.5 394.5 L21.5 395.5 L22.5 395.5 L23.5 394.5 L24.5 394.5 L24.5 392.5 L24.5 390.5 L23.5 389.5 L22.5 389.5 L21.5 389.5 M27.5 386.5 L27.5 393.5 L28.5 394.5 L29.5 395.5 L30.5 395.5 M26.5 389.5 L29.5 389.5 M33.5 389.5 L32.5 389.5 L33.5 390.5 L33.5 389.5 M33.5 394.5 L32.5 394.5 L33.5 395.5 L33.5 394.5" stroke="#000" stroke-width="1" fill="none" stroke-linecap="square"/>
<path d="M49.5 388.5 L49.5 387.5 L48.5 386.5 L47.5 386.5 L45.5 386.5 L44.5 386.5 L44.5 387.5 L43.5 388.5 L43.5 389.5 L43.5 392.5 L43.5 393.5 L44.5 394.5 L45.5 395.5 L47.5 395.5 L48.5 394.5 L49.5 394.5 L49.5 393.5 M58.5 388.5 L57.5 387.5 L57.5 386.5 L56.5 386.5 L54.5 386.5 L53.5 386.5 L52.5 387.5 L52.5 388.5 L52.5 389.5 L52.5 392.5 L52.5 393.5 L52.5 394.5 L53.5 394.5 L54.5 395.5 L56.5 395.5 L57.5 394.5 L58.5 393.5 M61.5 386.5 L61.5 395.5 M61.5 386.5 L64.5 395.5 M68.5 386.5 L64.5 395.5 M68.5 386.5 L68.5 395.5 M77.5 388.5 L76.5 387.5 L76.5 386.5 L75.5 386.5 L73.5 386.5 L72.5 386.5 L71.5 387.5 L71.5 388.5 L71.5 389.5 L71.5 392.5 L71.5 393.5 L71.5 394.5 L72.5 394.5 L73.5 395.5 L75.5 395.5 L76.5 394.5 L77.5 393.5" stroke="#000" stroke-width="1" fill="none" stroke-linecap="square"/>
<path d="M239.5 386.5 L239.5 395.5 M239.5 386.5 L242.5 386.5 L243.5 386.5 L244.5 387.5 L244.5 388.5 L245.5 389.5 L245.5 392.5 L244.5 393.5 L244.5 394.5 L243.5 394.5 L242.5 395.5 L239.5 395.5 M252.5 389.5 L252.5 395.5 M252.5 390.5 L251.5 389.5 L249.5 389.5 L248.5 390.5 L247.5 392.5 L248.5 394.5 L249.5 394.5 L249.5 395.5 L251.5 395.5 L251.5 394.5 L252.5 394.5 M256.5 386.5 L256.5 393.5 L257.5 394.5 L257.5 395.5 L258.5 395.5 M255.5 389.5 L258.5 389.5 M260.5 392.5 L265.5 392.5 L265.5 391.5 L265.5 390.5 L265.5 389.5 L264.5 389.5 L262.5 389.5 L261.5 390.5 L260.5 392.5 L261.5 394.5 L262.5 394.5 L262.5 395.5 L264.5 395.5 L265.5 394.5" stroke="#000" stroke-width="1" fill="none" stroke-linecap="square"/>
<path d="M279.5 389.5 L279.5 395.5 M279.5 390.5 L278.5 389.5 L277.5 389.5 L276.5 389.5 L275.5 389.5 L274.5 390.5 L274.5 392.5 L274.5 394.5 L275.5 394.5 L276.5 395.5 L277.5 395.5 L278.5 394.5 L279.5 394.5 M282.5 389.5 L282.5 395.5 M282.5 391.5 L284.5 389.5 L286.5 389.5 L287.5 391.5 L287.5 395.5 M295.5 386.5 L295.5 395.5 M295.5 390.5 L294.5 389.5 L293.5 389.5 L292.5 389.5 L291.5 389.5 L290.5 390.5 L290.5 392.5 L290.5 394.5 L291.5 394.5 L292.5 395.5 L293.5 395.5 L294.5 394.5 L295.5 394.5" stroke="#000" stroke-width="1" fill="none" stroke-linecap="square"/>
<path d="M307.5 386.5 L307.5 395.5 M304.5 386.5 L310.5 386.5 M311.5 386.5 L312.5 386.5 L311.5 386.5 M312.5 389.5 L312.5 395.5 M315.5 389.5 L315.5 395.5 M315.5 391.5 L316.5 389.5 L317.5 389.5 L319.5 389.5 L320.5 391.5 L320.5 395.5 M320.5 391.5 L321.5 389.5 L322.5 389.5 L323.5 389.5 L324.5 389.5 L324.5 391.5 L324.5 395.5 M327.5 392.5 L332.5 392.5 L332.5 391.5 L332.5 390.5 L332.5 389.5 L331.5 389.5 L330.5 389.5 L329.5 389.5 L328.5 390.5 L327.5 392.5 L328.5 394.5 L329.5 394.5 L330.5 395.5 L331.5 395.5 L332.5 394.5" stroke="#000" stroke-width="1" fill="none" stroke-linecap="square"/>
<path d="M445.5 389.5 L446.5 388.5 L446.5 387.5 L447.5 387.5 L448.5 387.5 L449.5 387.5 L449.5 388.5 L450.5 389.5 L449.5 390.5 L449.5 391.5 L445.5 395.5 L450.5 395.5 M455.5 387.5 L454.5 387.5 L453.5 389.5 L452.5 390.5 L452.5 392.5 L453.5 394.5 L454.5 395.5 L455.5 395.5 L457.5 395.5 L457.5 394.5 L458.5 392.5 L458.5 390.5 L457.5 389.5 L457.5 387.5 L455.5 387.5 M461.5 389.5 L462.5 388.5 L463.5 387.5 L463.5 395.5 M472.5 387.5 L468.5 387.5 L468.5 390.5 L469.5 390.5 L471.5 390.5 L472.5 390.5 L473.5 391.5 L473.5 392.5 L473.5 393.5 L473.5 394.5 L472.5 395.5 L471.5 395.5 L469.5 395.5 L468.5 395.5 L468.5 394.5 M482.5 386.5 L475.5 398.5 M486.5 387.5 L485.5 387.5 L484.5 389.5 L484.5 390.5 L484.5 392.5 L484.5 394.5 L485.5 395.5 L486.5 395.5 L487.5 395.5 L488.5 395.5 L488.5 394.5 L489.5 392.5 L489.5 390.5 L488.5 389.5 L488.5 387.5 L487.5 387.5 L486.5 387.5 M496.5 387.5 L492.5 387.5 L491.5 390.5 L492.5 390.5 L493.5 390.5 L494.5 390.5 L495.5 390.5 L496.5 391.5 L496.5 392.5 L496.5 393.5 L496.5 394.5 L495.5 395.5 L494.5 395.5 L493.5 395.5 L492.5 395.5 L491.5 394.5 M505.5 386.5 L498.5 398.5 M509.5 387.5 L508.5 387.5 L507.5 389.5 L507.5 390.5 L507.5 392.5 L507.5 394.5 L508.5 395.5 L509.5 395.5 L510.5 395.5 L511.5 395.5 L512.5 394.5 L512.5 392.5 L512.5 390.5 L512.5 389.5 L511.5 387.5 L510.5 387.5 L509.5 387.5 M518.5 387.5 L515.5 392.5 L520.5 392.5 M518.5 387.5 L518.5 395.5" stroke="#000" stroke-width="1" fill="none" stroke-linecap="square"/>
<path d="M529.5 389.5 L530.5 388.5 L531.5 387.5 L531.5 395.5 M541.5 387.5 L537.5 395.5 M535.5 387.5 L541.5 387.5 M544.5 390.5 L543.5 390.5 L544.5 390.5 M544.5 394.5 L543.5 395.5 L544.5 395.5 L544.5 394.5 M547.5 389.5 L547.5 388.5 L548.5 387.5 L549.5 387.5 L550.5 387.5 L551.5 387.5 L551.5 388.5 L552.5 389.5 L551.5 390.5 L550.5 391.5 L547.5 395.5 L552.5 395.5 M559.5 387.5 L555.5 387.5 L555.5 390.5 L556.5 390.5 L557.5 390.5 L558.5 390.5 L559.5 391.5 L560.5 392.5 L560.5 393.5 L559.5 394.5 L558.5 395.5 L557.5 395.5 L556.5 395.5 L555.5 395.5 L555.5 394.5 L554.5 394.5 M563.5 390.5 L562.5 390.5 L563.5 390.5 M563.5 394.5 L562.5 395.5 L563.5 395.5 L563.5 394.5 M567.5 389.5 L568.5 388.5 L569.5 387.5 L569.5 395.5 M574.5 389.5 L574.5 388.5 L574.5 387.5 L575.5 387.5 L577.5 387.5 L578.5 388.5 L578.5 389.5 L578.5 390.5 L577.5 391.5 L573.5 395.5 L579.5 395.5" stroke="#000" stroke-width="1" fill="none" stroke-linecap="square"/>
<path d="M527.5 48.5 L527.5 56.5 M527.5 48.5 L530.5 56.5 M533.5 48.5 L530.5 56.5 M533.5 48.5 L533.5 56.5 M537.5 48.5 L537.5 56.5 M537.5 48.5 L542.5 48.5 M537.5 52.5 L540.5 52.5 M537.5 56.5 L542.5 56.5 M547.5 48.5 L547.5 56.5 M544.5 48.5 L549.5 48.5 M552.5 48.5 L552.5 56.5 M552.5 48.5 L555.5 48.5 L557.5 48.5 L557.5 49.5 L557.5 51.5 L557.5 52.5 L555.5 52.5 L552.5 52.5" stroke="#000" stroke-width="1" fill="none" stroke-linecap="square"/>
<path d="M560.5 53.5 L568.5 53.5" stroke="#000" stroke-width="1" fill="none" stroke-linecap="square"/>
<path d="M573.5 48.5 L572.5 48.5 L571.5 49.5 L571.5 51.5 L571.5 53.5 L571.5 55.5 L572.5 56.5 L573.5 56.5 L574.5 56.5 L575.5 56.5 L576.5 55.5 L577.5 53.5 L577.5 51.5 L576.5 49.5 L575.5 48.5 L574.5 48.5 L573.5 48.5 M580.5 50.5 L580.5 49.5 L580.5 48.5 L581.5 48.5 L583.5 48.5 L584.5 48.5 L585.5 49.5 L585.5 50.5 L584.5 51.5 L583.5 52.5 L579.5 56.5 L585.5 56.5" stroke="#000" stroke-width="1" fill="none" stroke-linecap="square"/>
<path d="M527.5 69.5 L527.5 78.5 M527.5 69.5 L533.5 78.5 M533.5 69.5 L533.5 78.5 M539.5 69.5 L538.5 69.5 L537.5 70.5 L536.5 71.5 L536.5 72.5 L536.5 75.5 L536.5 76.5 L537.5 77.5 L538.5 77.5 L539.5 78.5 L540.5 78.5 L541.5 77.5 L542.5 77.5 L542.5 76.5 L543.5 75.5 L543.5 72.5 L542.5 71.5 L542.5 70.5 L541.5 69.5 L540.5 69.5 L539.5 69.5 M548.5 69.5 L544.5 78.5 M548.5 69.5 L551.5 78.5 M546.5 75.5 L550.5 75.5 M555.5 69.5 L552.5 78.5 M555.5 69.5 L559.5 78.5 M553.5 75.5 L558.5 75.5" stroke="#0000ff" stroke-width="1" fill="none" stroke-linecap="square"/>
<path d="M560.5 74.5 L568.5 74.5" stroke="#0000ff" stroke-width="1" fill="none" stroke-linecap="square"/>
<path d="M572.5 71.5 L573.5 70.5 L574.5 69.5 L574.5 78.5 M584.5 69.5 L580.5 69.5 L579.5 73.5 L580.5 72.5 L581.5 72.5 L582.5 72.5 L584.5 72.5 L584.5 73.5 L585.5 75.5 L584.5 77.5 L582.5 78.5 L581.5 78.5 L580.5 77.5 L579.5 77.5 L579.5 76.5" stroke="#0000ff" stroke-width="1" fill="none" stroke-linecap="square"/>
<path d="M527.5 90.5 L527.5 99.5 M527.5 90.5 L533.5 99.5 M533.5 90.5 L533.5 99.5 M539.5 90.5 L538.5 90.5 L537.5 91.5 L536.5 92.5 L536.5 93.5 L536.5 96.5 L536.5 97.5 L537.5 98.5 L538.5 98.5 L539.5 99.5 L540.5 99.5 L541.5 98.5 L542.5 98.5 L542.5 97.5 L543.5 96.5 L543.5 93.5 L542.5 92.5 L542.5 91.5 L541.5 90.5 L540.5 90.5 L539.5 90.5 M548.5 90.5 L544.5 99.5 M548.5 90.5 L551.5 99.5 M546.5 96.5 L550.5 96.5 M555.5 90.5 L552.5 99.5 M555.5 90.5 L559.5 99.5 M553.5 96.5 L558.5 96.5" stroke="#00c0ff" stroke-width="1" fill="none" stroke-linecap="square"/>
<path d="M560.5 95.5 L568.5 95.5" stroke="#00c0ff" stroke-width="1" fill="none" stroke-linecap="square"/>
<path d="M572.5 92.5 L573.5 91.5 L574.5 90.5 L574.5 99.5 M584.5 91.5 L584.5 90.5 L583.5 90.5 L582.5 90.5 L581.5 90.5 L580.5 92.5 L579.5 94.5 L579.5 96.5 L580.5 98.5 L581.5 98.5 L582.5 99.5 L584.5 98.5 L585.5 96.5 L584.5 95.5 L584.5 94.5 L582.5 93.5 L581.5 94.5 L580.5 95.5 L579.5 96.5" stroke="#00c0ff" stroke-width="1" fill="none" stroke-linecap="square"/>
<path d="M527.5 112.5 L527.5 121.5 M527.5 112.5 L533.5 121.5 M533.5 112.5 L533.5 121.5 M539.5 112.5 L538.5 112.5 L537.5 113.5 L536.5 114.5 L536.5 115.5 L536.5 118.5 L536.5 119.5 L537.5 120.5 L538.5 120.5 L539.5 121.5 L540.5 121.5 L541.5 120.5 L542.5 120.5 L542.5 119.5 L543.5 118.5 L543.5 115.5 L542.5 114.5 L542.5 113.5 L541.5 112.5 L540.5 112.5 L539.5 112.5 M548.5 112.5 L544.5 121.5 M548.5 112.5 L551.5 121.5 M546.5 118.5 L550.5 118.5 M555.5 112.5 L552.5 121.5 M555.5 112.5 L559.5 121.5 M553.5 118.5 L558.5 118.5" stroke="#40ff60" stroke-width="1" fill="none" stroke-linecap="square"/>
<path d="M560.5 117.5 L568.5 117.5" stroke="#40ff60" stroke-width="1" fill="none" stroke-linecap="square"/>
<path d="M572.5 114.5 L573.5 113.5 L574.5 112.5 L574.5 121.5 M581.5 112.5 L580.5 112.5 L579.5 113.5 L579.5 114.5 L580.5 115.5 L581.5 115.5 L582.5 116.5 L584.5 116.5 L584.5 117.5 L585.5 118.5 L585.5 119.5 L584.5 120.5 L583.5 121.5 L581.5 121.5 L580.5 120.5 L579.5 120.5 L579.5 119.5 L579.5 118.5 L579.5 117.5 L580.5 116.5 L581.5 116.5 L583.5 115.5 L584.5 115.5 L584.5 114.5 L584.5 113.5 L584.5 112.5 L583.5 112.5 L581.5 112.5" stroke="#40ff60" stroke-width="1" fill="none" stroke-linecap="square"/>
<path d="M527.5 133.5 L527.5 142.5 M527.5 133.5 L533.5 142.5 M533.5 133.5 L533.5 142.5 M539.5 133.5 L538.5 133.5 L537.5 134.5 L536.5 135.5 L536.5 136.5 L536.5 139.5 L536.5 140.5 L537.5 141.5 L538.5 141.5 L539.5 142.5 L540.5 142.5 L541.5 141.5 L542.5 141.5 L542.5 140.5 L543.5 139.5 L543.5 136.5 L542.5 135.5 L542.5 134.5 L541.5 133.5 L540.5 133.5 L539.5 133.5 M548.5 133.5 L544.5 142.5 M548.5 133.5 L551.5 142.5 M546.5 139.5 L550.5 139.5 M555.5 133.5 L552.5 142.5 M555.5 133.5 L559.5 142.5 M553.5 139.5 L558.5 139.5" stroke="#ff8000" stroke-width="1" fill="none" stroke-linecap="square"/>
<path d="M560.5 138.5 L568.5 138.5" stroke="#ff8000" stroke-width="1" fill="none" stroke-linecap="square"/>
<path d="M572.5 135.5 L573.5 134.5 L574.5 133.5 L574.5 142.5 M584.5 136.5 L584.5 137.5 L583.5 138.5 L582.5 139.5 L581.5 139.5 L580.5 138.5 L579.5 137.5 L579.5 136.5 L579.5 134.5 L580.5 133.5 L581.5 133.5 L582.5 133.5 L583.5 133.5 L584.5 134.5 L584.5 136.5 L584.5 138.5 L584.5 140.5 L583.5 141.5 L582.5 142.5 L581.5 142.5 L580.5 141.5 L579.5 141.5" stroke="#ff8000" stroke-width="1" fill="none" stroke-linecap="square"/>
<path d="M531.5 215.5 L539.5 215.5" stroke="#0040ff" stroke-width="1" fill="none" stroke-linecap="square"/>
<path d="M550.5 210.5 L549.5 210.5 L549.5 211.5 L548.5 212.5 L548.5 213.5 L548.5 216.5 L548.5 217.5 L549.5 218.5 L550.5 219.5 L552.5 219.5 L553.5 218.5 L554.5 218.5 L554.5 217.5 L554.5 216.5 L554.5 213.5 L554.5 212.5 L554.5 211.5 L553.5 210.5 L552.5 210.5 L550.5 210.5 M557.5 213.5 L559.5 219.5 M562.5 213.5 L559.5 219.5 M569.5 213.5 L569.5 219.5 M569.5 214.5 L568.5 213.5 L567.5 213.5 L566.5 213.5 L565.5 213.5 L564.5 214.5 L564.5 216.5 L564.5 218.5 L565.5 218.5 L566.5 219.5 L567.5 219.5 L568.5 218.5 L569.5 218.5 M573.5 210.5 L573.5 217.5 L573.5 218.5 L574.5 219.5 L575.5 219.5 M571.5 213.5 L574.5 213.5 M577.5 210.5 L578.5 210.5 L577.5 210.5 M577.5 213.5 L577.5 219.5 M582.5 213.5 L581.5 213.5 L581.5 214.5 L580.5 216.5 L581.5 218.5 L582.5 219.5 L584.5 219.5 L584.5 218.5 L585.5 218.5 L586.5 216.5 L585.5 214.5 L584.5 213.5 L582.5 213.5 M589.5 213.5 L589.5 219.5 M589.5 215.5 L590.5 213.5 L591.5 213.5 L592.5 213.5 L593.5 213.5 L593.5 215.5 L593.5 219.5" stroke="#0040ff" stroke-width="1" fill="none" stroke-linecap="square"/>
<path d="M527.5 222.5 L527.5 231.5 M527.5 222.5 L531.5 222.5 L532.5 222.5 L532.5 223.5 L533.5 224.5 L533.5 225.5 L532.5 226.5 L531.5 227.5 L527.5 227.5 M536.5 225.5 L536.5 231.5 M536.5 228.5 L536.5 226.5 L537.5 225.5 L538.5 225.5 L539.5 225.5 M541.5 222.5 L542.5 222.5 L541.5 222.5 M541.5 225.5 L541.5 231.5 M545.5 225.5 L545.5 231.5 M545.5 227.5 L546.5 225.5 L547.5 225.5 L548.5 225.5 L549.5 225.5 L549.5 227.5 L549.5 231.5 M549.5 227.5 L550.5 225.5 L551.5 225.5 L553.5 225.5 L554.5 227.5 L554.5 231.5 M557.5 228.5 L562.5 228.5 L562.5 227.5 L561.5 226.5 L561.5 225.5 L560.5 225.5 L559.5 225.5 L558.5 225.5 L557.5 226.5 L557.5 228.5 L557.5 230.5 L558.5 230.5 L559.5 231.5 L560.5 231.5 L561.5 230.5 L562.5 230.5" stroke="#0040ff" stroke-width="1" fill="none" stroke-linecap="square"/>
<path d="M570.5 222.5 L570.5 231.5 M576.5 222.5 L576.5 231.5 M570.5 226.5 L576.5 226.5 M580.5 222.5 L580.5 231.5 M580.5 222.5 L583.5 222.5 L585.5 222.5 L585.5 223.5 L585.5 224.5 L585.5 225.5 L585.5 226.5 L583.5 227.5 L580.5 227.5 M588.5 222.5 L588.5 231.5" stroke="#0040ff" stroke-width="1" fill="none" stroke-linecap="square"/>
<path d="M531.5 303.5 L531.5 311.5 M527.5 307.5 L534.5 307.5" stroke="#000" stroke-width="1" fill="none" stroke-linecap="square"/>
<path d="M548.5 306.5 L548.5 305.5 L546.5 305.5 L545.5 305.5 L544.5 305.5 L544.5 306.5 L544.5 307.5 L545.5 308.5 L547.5 308.5 L548.5 308.5 L548.5 309.5 L548.5 310.5 L546.5 311.5 L545.5 311.5 L544.5 310.5 M553.5 305.5 L552.5 305.5 L551.5 306.5 L551.5 308.5 L551.5 310.5 L552.5 310.5 L553.5 311.5 L554.5 311.5 L555.5 310.5 L556.5 310.5 L556.5 308.5 L556.5 306.5 L555.5 305.5 L554.5 305.5 L553.5 305.5 M559.5 305.5 L559.5 309.5 L560.5 310.5 L560.5 311.5 L562.5 311.5 L562.5 310.5 L564.5 309.5 M564.5 305.5 L564.5 311.5 M568.5 302.5 L568.5 309.5 L568.5 310.5 L569.5 311.5 L570.5 311.5 M566.5 305.5 L569.5 305.5 M572.5 302.5 L572.5 311.5 M572.5 307.5 L573.5 305.5 L574.5 305.5 L576.5 305.5 L577.5 307.5 L577.5 311.5" stroke="#000" stroke-width="1" fill="none" stroke-linecap="square"/>
<path d="M528.5 334.5 L528.5 339.5 M526.5 335.5 L531.5 338.5 M531.5 335.5 L526.5 338.5" stroke="#000" stroke-width="1" fill="none" stroke-linecap="square"/>
<path d="M540.5 335.5 L540.5 341.5 M540.5 337.5 L541.5 335.5 L542.5 335.5 L543.5 335.5 L544.5 335.5 L544.5 337.5 L544.5 341.5 M549.5 335.5 L548.5 336.5 L547.5 338.5 L548.5 340.5 L549.5 340.5 L549.5 341.5 L551.5 341.5 L552.5 340.5 L553.5 338.5 L552.5 336.5 L552.5 335.5 L551.5 335.5 L549.5 335.5 M556.5 335.5 L556.5 341.5 M556.5 338.5 L556.5 336.5 L557.5 335.5 L558.5 335.5 L559.5 335.5 M562.5 332.5 L562.5 339.5 L562.5 340.5 L563.5 341.5 L564.5 341.5 M560.5 335.5 L563.5 335.5 M566.5 332.5 L566.5 341.5 M566.5 337.5 L568.5 335.5 L570.5 335.5 L571.5 337.5 L571.5 341.5" stroke="#000" stroke-width="1" fill="none" stroke-linecap="square"/>
<path d="M9.5 210.5 L18.5 210.5 M9.5 210.5 L9.5 207.5 L10.5 205.5 L11.5 204.5 L12.5 204.5 L13.5 205.5 L14.5 207.5 L14.5 210.5 M8.5 195.5 L21.5 195.5 M8.5 194.5 L21.5 194.5 M8.5 195.5 L8.5 192.5 M21.5 195.5 L21.5 192.5 M11.5 183.5 L10.5 184.5 L9.5 185.5 L9.5 187.5 L10.5 188.5 L11.5 188.5 L11.5 189.5 L13.5 189.5 L15.5 189.5 L16.5 189.5 L17.5 188.5 L18.5 188.5 L18.5 187.5 L18.5 185.5 L18.5 184.5 L17.5 183.5 L16.5 183.5 L15.5 183.5 M15.5 185.5 L15.5 183.5 M9.5 181.5 L18.5 179.5 M9.5 177.5 L18.5 179.5 M9.5 177.5 L18.5 174.5 M9.5 172.5 L18.5 174.5 M8.5 167.5 L21.5 167.5 M8.5 168.5 L21.5 168.5 M8.5 170.5 L8.5 167.5 M21.5 170.5 L21.5 167.5" stroke="#000" stroke-width="1" fill="none"/>
</svg></body></html>
